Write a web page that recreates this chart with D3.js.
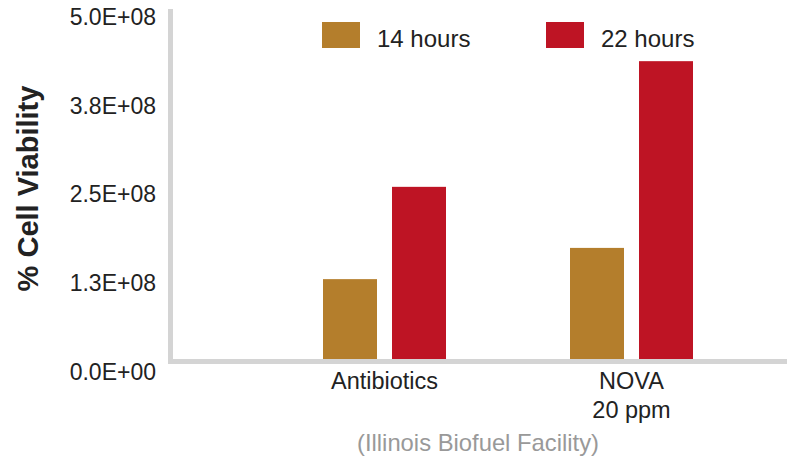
<!DOCTYPE html>
<html>
<head>
<meta charset="utf-8">
<script src="https://cdn.jsdelivr.net/npm/d3@7"></script>
<style>
  body { margin: 0; background: #fff; }
  text { font-family: "Liberation Sans", Arial, sans-serif; }
</style>
</head>
<body>
<div id="chart-area"></div>
<script>
// data
var categories = ["Antibiotics", "NOVA|20 ppm"];
var seriesNames = ["14 hours", "22 hours"];
var hours14 = [1.16e8, 1.60e8];
var hours22 = [2.46e8, 4.23e8];
var yTicks = [0, 1.25e8, 2.5e8, 3.75e8, 5.0e8];

var colors = ["#b47e2c", "#be1424"];

var width = 793, height = 463;

var svg = d3.select("#chart-area")
    .append("svg")
    .attr("width", width)
    .attr("height", height);

var data = categories.map(function(c, i){
    return { cat: c, values: [hours14[i], hours22[i]] };
});

var x = d3.scaleBand()
    .domain(categories)
    .range([261, 755])
    .padding(0);

var x1 = d3.scaleBand()
    .domain(seriesNames)
    .range([x.bandwidth() / 2 - 61.5, x.bandwidth() / 2 + 61.5])
    .paddingInner(0.2174);

var y = d3.scaleLinear()
    .domain([0, 5e8])
    .range([361.5, 6.5]);

// bars
var groups = svg.selectAll("g.group")
    .data(data)
    .enter()
    .append("g")
        .attr("class", "group")
        .attr("transform", function(d){ return "translate(" + x(d.cat) + ",0)"; });

groups.selectAll("rect")
    .data(function(d){ return d.values.map(function(v, j){ return { name: seriesNames[j], v: v, j: j }; }); })
    .enter()
    .append("rect")
        .attr("x", function(d){ return x1(d.name); })
        .attr("width", x1.bandwidth())
        .attr("y", function(d){ return y(d.v); })
        .attr("height", function(d){ return y(0) - y(d.v); })
        .attr("fill", function(d){ return colors[d.j]; });

// axis lines
svg.append("line")
    .attr("x1", 170.5).attr("x2", 170.5)
    .attr("y1", 9).attr("y2", 364)
    .attr("stroke", "#d4d4d4")
    .attr("stroke-width", 5);
svg.append("line")
    .attr("x1", 168).attr("x2", 787)
    .attr("y1", y(0)).attr("y2", y(0))
    .attr("stroke", "#d4d4d4")
    .attr("stroke-width", 5);

// y tick labels
var yAxisCall = d3.axisLeft(y)
    .tickValues(yTicks)
    .tickSize(0)
    .tickPadding(0)
    .tickFormat(function(d){
        var s = d.toExponential(1).toUpperCase();
        var parts = s.split("E");
        var ex = +parts[1];
        return parts[0] + "E" + (ex < 0 ? "-" : "+") + (Math.abs(ex) < 10 ? "0" : "") + Math.abs(ex);
    });

var yAxis = svg.append("g")
    .attr("class", "y-axis")
    .attr("transform", "translate(156,0)")
    .call(yAxisCall);
yAxis.select(".domain").remove();
yAxis.selectAll("text")
    .attr("dy", "0.32em")
    .attr("y", 10.5)
    .attr("fill", "#222")
    .style("font-size", "23px")
    .style("font-family", "'Liberation Sans', Arial, sans-serif");

// x category labels
var xLabels = svg.selectAll("text.xlab")
    .data(categories)
    .enter()
    .append("text")
        .attr("class", "xlab")
        .attr("text-anchor", "middle")
        .attr("font-size", "23.5px")
        .attr("fill", "#222")
        .attr("transform", function(d){ return "translate(" + (x(d) + x.bandwidth() / 2) + ",389)"; });
xLabels.selectAll("tspan")
    .data(function(d){ return d.split("|"); })
    .enter()
    .append("tspan")
        .attr("x", 0)
        .attr("dy", function(d, i){ return i === 0 ? 0 : 29; })
        .text(function(d){ return d; });

// subtitle under x axis
svg.append("text")
    .attr("x", 478)
    .attr("y", 451)
    .attr("text-anchor", "middle")
    .attr("font-size", "23.8px")
    .attr("fill", "#999")
    .text("(Illinois Biofuel Facility)");

// y title
svg.append("text")
    .attr("transform", "translate(38,188.5) rotate(-90)")
    .attr("text-anchor", "middle")
    .attr("font-size", "29px")
    .attr("font-weight", "bold")
    .attr("fill", "#222")
    .text("% Cell Viability");

// legend
var legendX = [322, 546];
var legend = svg.selectAll("g.legend")
    .data(seriesNames)
    .enter()
    .append("g")
        .attr("class", "legend")
        .attr("transform", function(d, i){ return "translate(" + legendX[i] + ",22)"; });
legend.append("rect")
    .attr("width", 38)
    .attr("height", 26)
    .attr("fill", function(d, i){ return colors[i]; });
legend.append("text")
    .attr("x", 55)
    .attr("y", 25)
    .attr("font-size", "24px")
    .attr("fill", "#222")
    .text(function(d){ return d; });
</script>
</body>
</html>
